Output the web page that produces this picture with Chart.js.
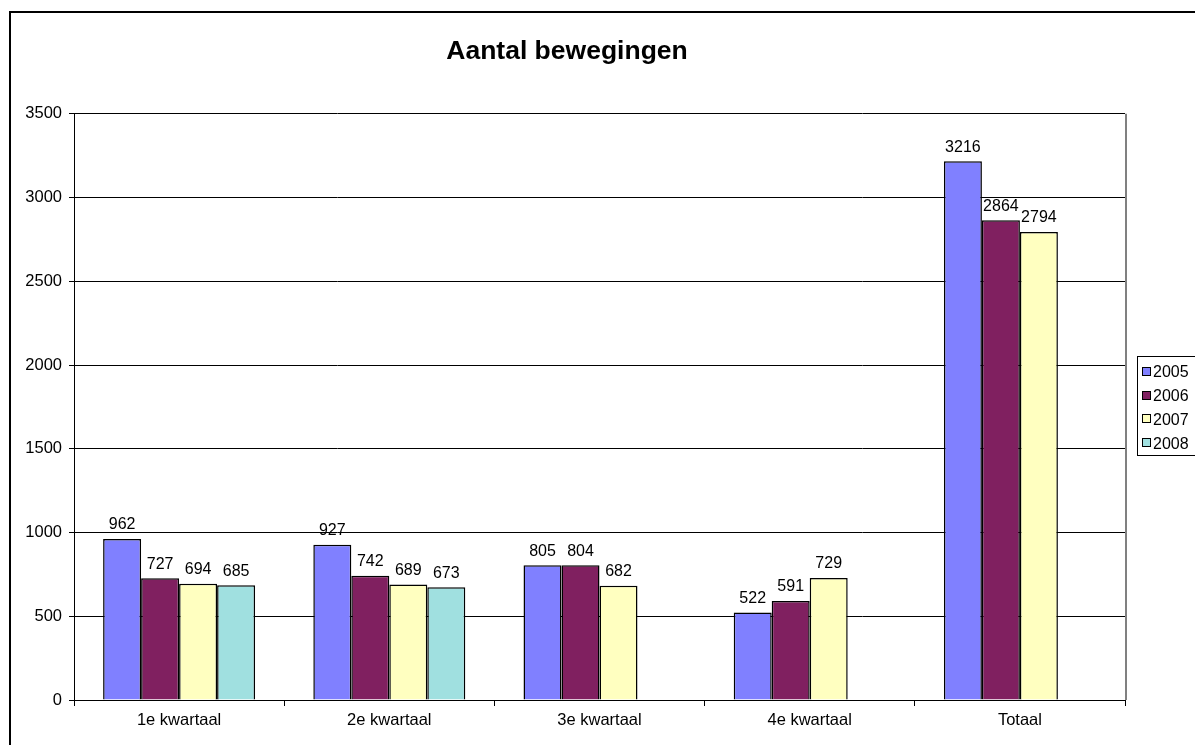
<!DOCTYPE html>
<html>
<head>
<meta charset="utf-8">
<script src="https://cdn.jsdelivr.net/npm/chart.js@4"></script>
<style>
    html, body { margin: 0; padding: 0; background: #fff; overflow: hidden; width: 1195px; height: 745px; }
    #wrap { position: absolute; left: 9px; top: 11px; width: 1196px; height: 745px; border-left: 2px solid #000; border-top: 2px solid #000; box-sizing: border-box; }
    canvas { position: absolute; left: -2px; top: -2px; }
</style>
</head>
<body>
<div id="wrap"><canvas id="beweging" width="1196" height="745"></canvas></div>
<script>
const categories = ['1e kwartaal', '2e kwartaal', '3e kwartaal', '4e kwartaal', 'Totaal'];
const years = ['2005', '2006', '2007', '2008'];
const values2005 = [962, 927, 805, 522, 3216];
const values2006 = [727, 742, 804, 591, 2864];
const values2007 = [694, 689, 682, 729, 2794];
const values2008 = [685, 673, null, null, null];
const colors = ['#8080FF', '#802060', '#FFFFC0', '#A0E0E0'];

Chart.defaults.font.family = "Arial, 'Liberation Sans', sans-serif";
Chart.defaults.color = '#000';

// waarden boven de staven
const barLabels = {
    id: 'barLabels',
    afterDatasetsDraw(chart) {
        const ctx = chart.ctx;
        ctx.save();
        ctx.font = "16px Arial, 'Liberation Sans', sans-serif";
        ctx.fillStyle = '#000';
        ctx.textAlign = 'center';
        ctx.textBaseline = 'bottom';
        chart.data.datasets.forEach((ds, i) => {
            chart.getDatasetMeta(i).data.forEach((bar, j) => {
                if (ds.data[j] === null) return;
                ctx.fillText(String(ds.data[j]), bar.x, bar.y - 6);
            });
        });
        ctx.restore();
    }
};

// rand rechts van het plotgebied + legenda met kader
const frameAndLegend = {
    id: 'frameAndLegend',
    afterDraw(chart) {
        const ctx = chart.ctx;
        const a = chart.chartArea;
        ctx.save();
        ctx.strokeStyle = '#808080';
        ctx.lineWidth = 2;
        ctx.beginPath();
        ctx.moveTo(Math.round(a.right) + 1, a.top);
        ctx.lineTo(Math.round(a.right) + 1, a.bottom);
        ctx.stroke();

        const lx = 1128, ly = 345;
        ctx.lineWidth = 1;
        ctx.strokeStyle = '#000';
        ctx.strokeRect(lx + 0.5, ly + 0.5, 80, 99);
        ctx.font = "16px Arial, 'Liberation Sans', sans-serif";
        ctx.textAlign = 'left';
        ctx.textBaseline = 'middle';
        years.forEach((y, i) => {
            const cy = ly + 16 + i * 23.7;
            ctx.fillStyle = colors[i];
            ctx.fillRect(lx + 5, Math.round(cy - 5), 9, 9);
            ctx.strokeRect(lx + 5.5, Math.round(cy - 5) + 0.5, 8, 8);
            ctx.fillStyle = '#000';
            ctx.fillText(y, lx + 16, cy + 1);
        });
        ctx.restore();
    }
};

const datasets = [values2005, values2006, values2007, values2008].map((vals, i) => ({
    label: years[i],
    data: vals,
    backgroundColor: colors[i],
    borderColor: '#000',
    borderWidth: 1.5,
    barPercentage: 1,
    categoryPercentage: 0.723
}));

new Chart(document.getElementById('beweging').getContext('2d'), {
    type: 'bar',
    data: { labels: categories, datasets: datasets },
    plugins: [barLabels, frameAndLegend],
    options: {
        responsive: false,
        animation: false,
        events: [],
        layout: { padding: { left: 0, right: 80, top: 0, bottom: 0 } },
        plugins: {
            legend: { display: false },
            tooltip: { enabled: false },
            title: {
                display: true,
                text: 'Aantal bewegingen',
                color: '#000',
                font: { size: 26.5, weight: 'bold' },
                padding: { top: 25, bottom: 46 }
            }
        },
        scales: {
            x: {
                grid: { drawOnChartArea: false, color: '#000', tickLength: 6, offset: true },
                border: { color: '#000' },
                ticks: { font: { size: 16.5 }, padding: 5, maxRotation: 0 },
                afterFit(scale) { scale.height = 56; }
            },
            y: {
                min: 0,
                max: 3500,
                ticks: { stepSize: 500, font: { size: 16.5 }, padding: 7, callback: v => String(v) },
                grid: { color: '#000', tickLength: 5 },
                border: { color: '#000' },
                afterFit(scale) { scale.width = 65; }
            }
        }
    }
});
</script>
</body>
</html>
